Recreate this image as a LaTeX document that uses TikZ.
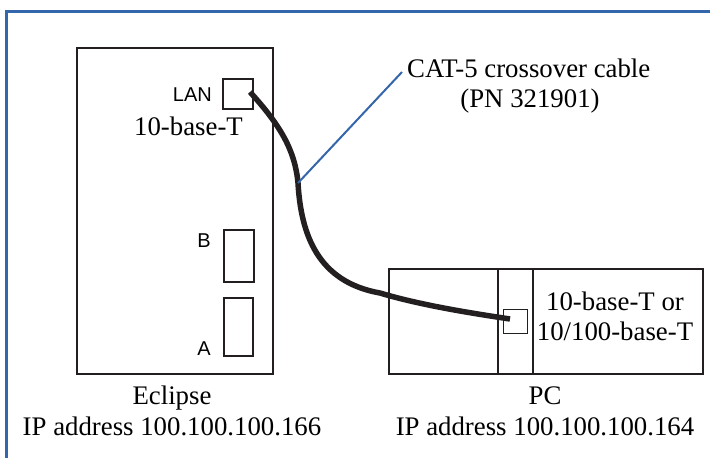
\documentclass[tikz,border=0pt]{standalone}
\usepackage{fontspec}
\setmainfont{Liberation Serif}
\setsansfont{Liberation Sans}
\definecolor{frameblue}{RGB}{52,102,172}
\definecolor{ink}{RGB}{35,31,32}
\begin{document}
\begin{tikzpicture}[x=1pt,y=-1pt,
  box/.style={draw=ink, line width=2pt, inner sep=0pt, anchor=north west},
  thinbox/.style={draw=ink, line width=1.1pt, inner sep=0pt, anchor=north west},
  serif/.style={font=\fontsize{26.8}{30}\selectfont, inner sep=0pt, text=black},
  sans/.style={font=\sffamily\fontsize{20}{22}\selectfont, inner sep=0pt, text=black},
  cable/.style={draw=ink, line width=5.5pt},
  leader/.style={draw=frameblue, line width=2pt}]
\useasboundingbox (0,0) rectangle (710,458);
\fill[white] (0,0) rectangle (710,458);
% blue frame (only top and left edges visible)
\draw[frameblue, line width=3pt] (6,470) -- (6,11) -- (720,11);
% Eclipse unit
\node[box, minimum width=196pt, minimum height=326pt] (eclipse) at (76,47) {};
\node[box, minimum width=30pt, minimum height=30pt] (lan) at (222,78) {};
\node[box, minimum width=30pt, minimum height=52pt] (portB) at (223,229) {};
\node[box, minimum width=29pt, minimum height=58pt] (portA) at (223,297) {};
\node[sans, anchor=base east] (lanlbl) at (212,101) {LAN};
\node[sans, anchor=base east] (blbl) at (211,247) {B};
\node[sans, anchor=base east] (albl) at (211,355) {A};
\node[serif, anchor=base] (lanspeed) at (188.5,135) {10-base-T};
% PC
\node[box, minimum width=314pt, minimum height=105pt] (pc) at (388,268) {};
\draw[ink, line width=1.1pt] (498,268) -- (498,373);
\draw[ink, line width=1.1pt] (533,268) -- (533,373);
\node[thinbox, minimum width=24pt, minimum height=24pt] (pcport) at (503,309) {};
\node[serif, anchor=base] (pcspeed1) at (615,310) {10-base-T or};
\node[serif, anchor=base] (pcspeed2) at (615,340) {10/100-base-T};
% captions
\node[serif, anchor=base] (ecap1) at (172,404) {Eclipse};
\node[serif, anchor=base] (ecap2) at (172,435) {IP address 100.100.100.166};
\node[serif, anchor=base] (pccap1) at (545,404) {PC};
\node[serif, anchor=base] (pccap2) at (545,435) {IP address 100.100.100.164};
% cable
\coordinate (cstart) at (250,92);
\coordinate (cmid) at (298,183);
\coordinate (cknee) at (380,293);
\coordinate (cend) at (510,319);
\draw[cable] (cstart) .. controls (280,125) and (295,150) .. (cmid)
  .. controls (301,235) and (318,282) .. (cknee)
  .. controls (420,305) and (470,313) .. (cend);
% cable label
\node[serif, anchor=base west] (cat1) at (407,77) {CAT-5 crossover cable};
\node[serif, anchor=base] (cat2) at (530,107) {(PN 321901)};
\coordinate (leaderend) at (402,72);
\draw[leader] (cmid) -- (leaderend);
\end{tikzpicture}
\end{document}
